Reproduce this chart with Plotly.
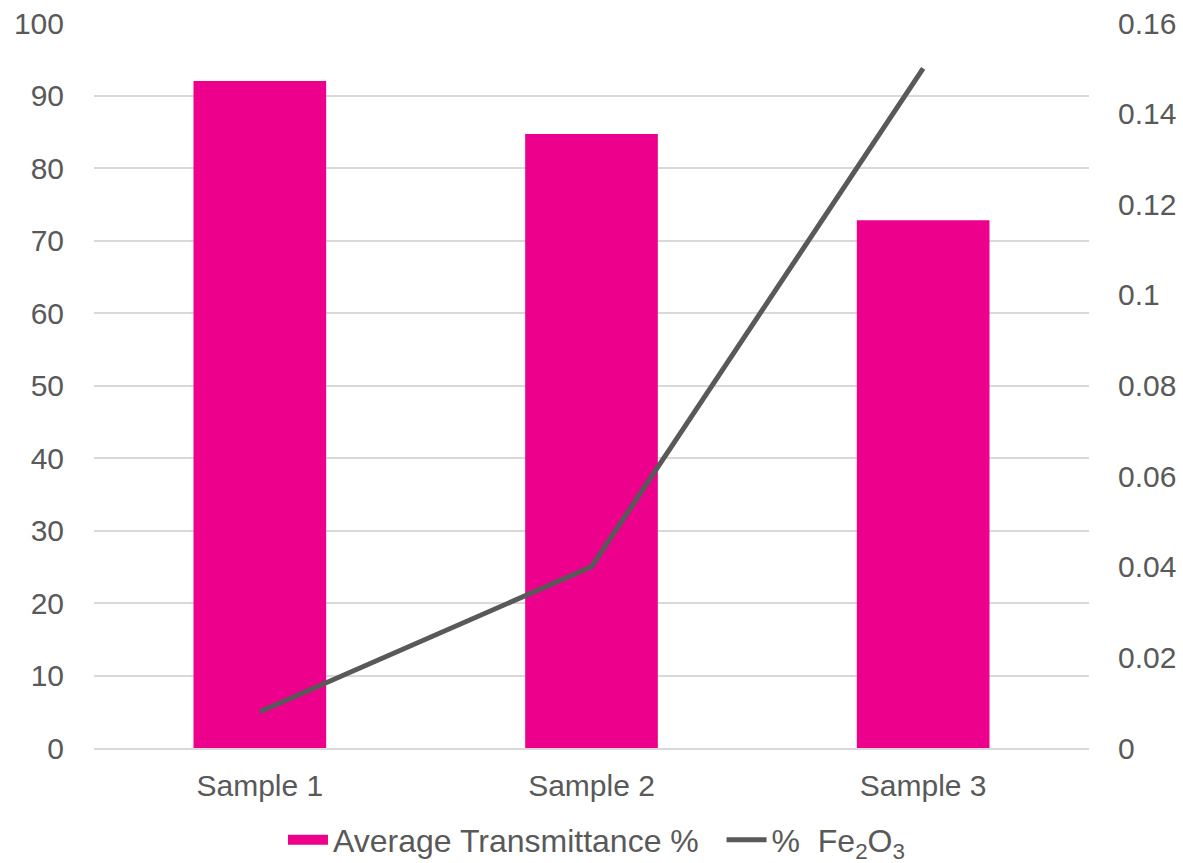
import plotly.graph_objects as go

categories = ["Sample 1", "Sample 2", "Sample 3"]
transmittance = [92, 84.7, 72.8]
fe2o3 = [0.008, 0.040, 0.150]
left_ticks = [0, 10, 20, 30, 40, 50, 60, 70, 80, 90, 100]
right_ticks = [0, 0.02, 0.04, 0.06, 0.08, 0.1, 0.12, 0.14, 0.16]
right_labels = ["0", "0.02", "0.04", "0.06", "0.08", "0.1", "0.12", "0.14", "0.16"]

FONT = "Liberation Sans, Arial, sans-serif"
TXT = "#595959"
PINK = "#EC008C"

fig = go.Figure()
fig.add_trace(go.Bar(
    x=categories, y=transmittance, name="Average Transmittance %",
    marker=dict(color=PINK, line=dict(width=0)), width=0.4, showlegend=False,
))
# legend proxy giving a wide rectangular swatch like the reference
fig.add_trace(go.Scatter(
    x=[None], y=[None], name="Average Transmittance %\u00a0\u00a0", mode="lines",
    line=dict(color=PINK, width=18), showlegend=True,
))
fig.add_trace(go.Scatter(
    x=categories, y=fe2o3, name="%  Fe<sub>2</sub>O<sub>3</sub>", yaxis="y2",
    mode="lines", line=dict(color="#595959", width=5),
))

fig.update_layout(
    width=1183, height=863,
    margin=dict(l=94, r=94, t=23, b=115, autoexpand=False),
    paper_bgcolor="white", plot_bgcolor="white",
    font=dict(family=FONT, size=30, color=TXT),
    showlegend=True,
    legend=dict(orientation="h", x=0.505, xanchor="center", xref="paper",
                y=-0.089, yanchor="top", yref="paper",
                font=dict(size=32, color=TXT), itemwidth=40, traceorder="normal",
                tracegroupgap=0),
    xaxis=dict(showgrid=False, showline=True, linecolor="#D9D9D9", linewidth=1.5,
               ticks="", tickfont=dict(size=30, color=TXT), ticklabelstandoff=10,
               automargin=False),
    yaxis=dict(range=[0, 100], tickvals=left_ticks, showgrid=True, gridcolor="#D9D9D9",
               gridwidth=1.5, zeroline=False, showline=False, ticks="",
               tickfont=dict(size=30, color=TXT), ticklabelstandoff=29, automargin=False),
    yaxis2=dict(range=[0, 0.16], tickvals=right_ticks, ticktext=right_labels,
                overlaying="y", side="right", showgrid=False, zeroline=False,
                showline=False, ticks="", tickfont=dict(size=30, color=TXT),
                ticklabelstandoff=28, automargin=False),
    bargap=0.6,
)

fig.write_html("out.html")
